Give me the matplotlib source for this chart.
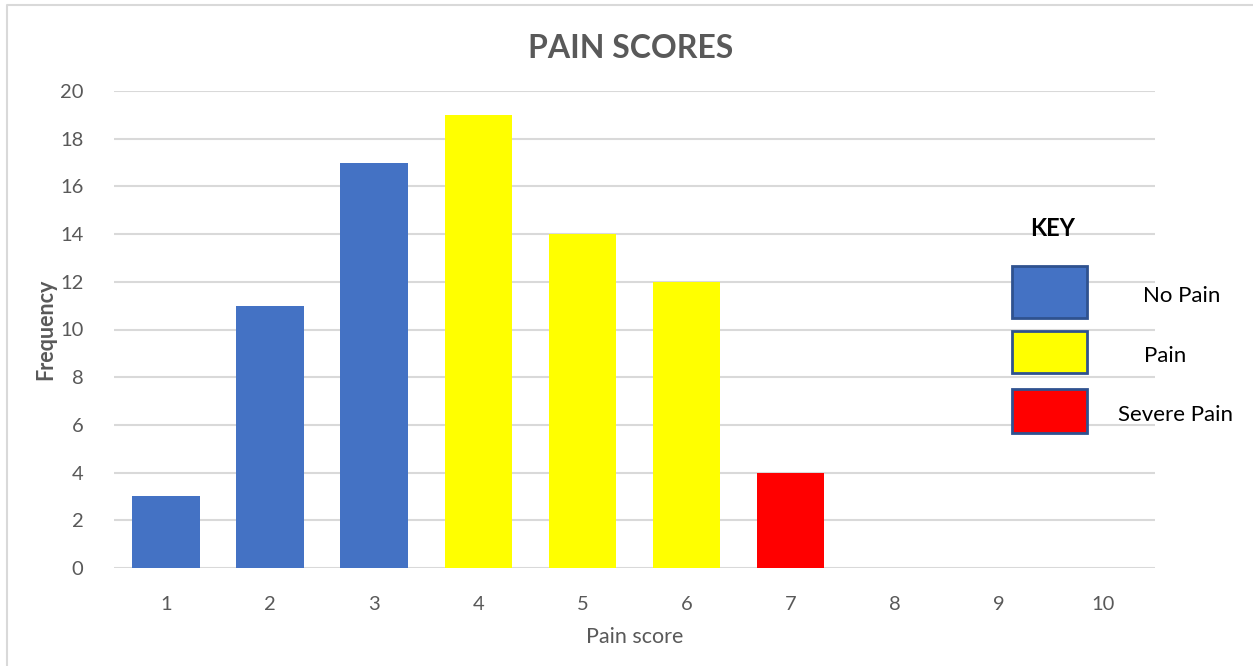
import matplotlib
matplotlib.use("Agg")
import matplotlib.pyplot as plt
from matplotlib.patches import Rectangle
from matplotlib.lines import Line2D

# Pain score frequencies
scores = [1, 2, 3, 4, 5, 6, 7, 8, 9, 10]
frequency = [3, 11, 17, 19, 14, 12, 4, 0, 0, 0]
category = ["No Pain", "No Pain", "No Pain", "Pain", "Pain", "Pain",
            "Severe Pain", "Severe Pain", "Severe Pain", "Severe Pain"]
key_labels = ["No Pain", "Pain", "Severe Pain"]
key_colors = ["#4472C4", "#FFFF00", "#FF0000"]
y_ticks = [0, 2, 4, 6, 8, 10, 12, 14, 16, 18, 20]

plt.rcParams["font.family"] = ["Lato", "DejaVu Sans"]
TXT = "#595959"
GRID = "#D9D9D9"

W, H = 1253, 666
fig = plt.figure(figsize=(W / 100, H / 100), dpi=100)
fig.patch.set_facecolor("white")

# outer chart frame (left and top edges)
fig.add_artist(Line2D([7 / W, 7 / W, 1], [0, 1 - 5 / H, 1 - 5 / H],
                      transform=fig.transFigure, color=GRID, linewidth=1.5))

ax = fig.add_axes([114 / W, (H - 568) / H, (1155 - 114) / W, (568 - 91) / H])
colour_of = dict(zip(key_labels, key_colors))
ax.bar(scores, frequency, width=0.65,
       color=[colour_of[c] for c in category], zorder=3)
ax.set_xlim(0.5, 10.5)
ax.set_ylim(0, 20)
ax.set_yticks(y_ticks)
ax.set_xticks(scores)
ax.yaxis.grid(True, color=GRID, linewidth=1.5, zorder=0)
ax.set_axisbelow(True)
for s in ax.spines.values():
    s.set_visible(False)
ax.tick_params(length=0, labelsize=14.5, labelcolor=TXT)
ax.tick_params(axis="x", pad=20)
ax.tick_params(axis="y", pad=22)
ax.set_xlabel("Pain score", fontsize=15.5, color=TXT, labelpad=10)
ax.set_ylabel("Frequency", fontsize=15.5, color=TXT, fontweight="bold")
ax.yaxis.set_label_coords(-(114 - 56) / (1155 - 114), 0.5)

fig.text(631 / W, 1 - 49 / H, "PAIN SCORES", ha="center", va="center",
         fontsize=23, fontweight="bold", color=TXT)

# hand-drawn key on the right
fig.text(1053 / W, 1 - 229 / H, "KEY", ha="center", va="center",
         fontsize=17, fontweight="bold", color="black")
boxes = [(266, 318), (331, 373), (389, 433)]
label_x = [1182, 1165, 1175]
for (top, bot), lab, col, lx in zip(boxes, key_labels, key_colors, label_x):
    fig.add_artist(Rectangle((1012 / W, 1 - bot / H), (1087 - 1012) / W,
                             (bot - top) / H, transform=fig.transFigure,
                             facecolor=col, edgecolor="#2F528F", linewidth=2))
    fig.text(lx / W, 1 - (top + bot) / 2 / H - 4 / H, lab, ha="center",
             va="center", fontsize=16, color="black")

fig.savefig("out.png", dpi=100, facecolor="white")
